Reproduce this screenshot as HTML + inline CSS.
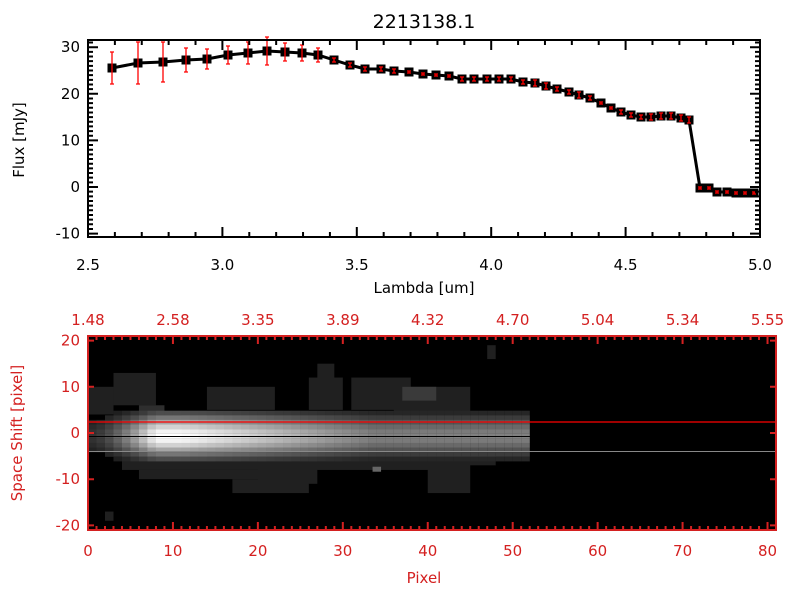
<!DOCTYPE html>
<html><head><meta charset="utf-8">
<style>
html,body{margin:0;padding:0;background:#fff;}
svg{display:block;font-family:"DejaVu Sans","Liberation Sans",sans-serif;}
</style></head>
<body>
<svg id="s" width="800" height="600" xmlns="http://www.w3.org/2000/svg">
<rect width="800" height="600" fill="#fff"/>
<text x="424" y="28" font-size="19" text-anchor="middle" fill="#000">2213138.1</text>
<g id="top"></g>
<g id="img"></g>
<g id="bot"></g>
<text x="424" y="293" font-size="15" text-anchor="middle">Lambda [um]</text>
<text x="24" y="140" font-size="15" text-anchor="middle" transform="rotate(-90 24 140)">Flux [mJy]</text>
<text x="424" y="583" font-size="15" text-anchor="middle" fill="#d42020">Pixel</text>
<text x="22" y="433" font-size="15" text-anchor="middle" fill="#d42020" transform="rotate(-90 22 433)">Space Shift [pixel]</text>
</svg>
<script>
var NS="http://www.w3.org/2000/svg";
function el(p,t,a,txt){var e=document.createElementNS(NS,t);for(var k in a)e.setAttribute(k,a[k]);if(txt!==undefined)e.textContent=txt;p.appendChild(e);return e;}
var top_=document.getElementById('top'),img=document.getElementById('img'),bot=document.getElementById('bot');
var X0=88,X1=760,Y0=40,Y1=237;
function px(l){return X0+(l-2.5)*268.8;}
function py(v){return 187-v*4.66;}
var pts=[[112,68],[138,63],[163,62],[186,60],[207,59],[228,55],[248,53],[267,51],[285,52],[302,53],[318,55],[334,60],[350,65],[365,69],[381,69],[394,71],[409,72],[423,74],[436,75],[449,76],[462,79],[474,79],[487,79],[499,79],[511,79],[523,82],[535,83],[546,86],[557,89],[569,92],[579,95],[590,98],[601,103],[611,108],[621,112],[631,115],[641,117],[651,117],[661,116],[671,116],[681,118],[689,120],[700,188],[709,188],[717,192],[727,192],[736,193],[745,193],[754,193]];
var errs=[16,21,20,12,10,9,11,14,9,8,7,2,2,2,2,2,1,1,1,1,2,2,2,2,2,2,3,3,2,2,3,2,1,1,2,2,2,3,3,3,3,3,1,1,1,1,1,1,1];
var d="";pts.forEach(function(p,i){d+=(i?"L":"M")+p[0]+" "+p[1];});
el(top_,'path',{d:d,fill:'none',stroke:'#000','stroke-width':3});
pts.forEach(function(p){el(top_,'rect',{x:p[0]-4.5,y:p[1]-4.5,width:9,height:9,fill:'#000'});});
pts.forEach(function(p,i){var e=errs[i];el(top_,'path',{d:"M"+p[0]+" "+(p[1]-e)+"V"+(p[1]+e)+"M"+(p[0]-2)+" "+(p[1]-e)+"h4M"+(p[0]-2)+" "+(p[1]+e)+"h4",stroke:'#f00','stroke-width':1.3,fill:'none'});});
el(top_,'rect',{x:X0,y:Y0,width:X1-X0,height:Y1-Y0,fill:'none',stroke:'#000','stroke-width':2});
var t="";
for(var i=0;i<=25;i++){var x=px(2.5+i*0.1);var L=(i%5==0)?10:5;t+="M"+x+" "+Y1+"v-"+L+"M"+x+" "+Y0+"v"+L;}
for(var v=-10;v<=31;v++){var y=py(v);var L=(v%10==0)?10:5;t+="M"+X0+" "+y+"h"+L+"M"+X1+" "+y+"h-"+L;}
el(top_,'path',{d:t,stroke:'#000','stroke-width':2,fill:'none'});
["2.5","3.0","3.5","4.0","4.5","5.0"].forEach(function(s,i){el(top_,'text',{x:px(2.5+i*0.5),y:270,'font-size':15,'text-anchor':'middle'},s);});
[30,20,10,0,-10].forEach(function(v){el(top_,'text',{x:80,y:py(v)+5,'font-size':15,'text-anchor':'end'},String(v));});
var B0=88,B1=776,BT=336,BB=530;
function bx(p){return B0+p*8.494;}
function by(v){return 433-v*4.62;}
el(img,'rect',{x:B0,y:BT,width:B1-B0,height:BB-BT,fill:'#000'});
function f(p){ if(p<0.5||p>=52) return 0; var r;
 if(p<8) r=0.2+0.8*Math.pow((p-0.5)/7.5,1.5); else if(p<11) r=1; else r=Math.max(0.5,1-(p-11)*0.022);
 return r;}
function g(dy){var a=Math.abs(dy); if(a>26) return 0; return Math.exp(-Math.pow(a/21,2));}
var halo=[[0,10,3,4],[3,13,8,6],[14,10,22,5],[26,12,30,5],[27,15,29,11],[31,12,38,5],[36,10,45,4],[39,8,42,6],[4,-2,44,-8],[6,-8,24,-10],[17,-10,26,-13],[43,-5,48,-7],[20,-4,27,-11],[40,-5,45,-13],[47,19,48,16],[2,-17,3,-19],[11,4,37,1]];
halo.forEach(function(h){el(img,'rect',{x:bx(h[0]),y:by(h[1]),width:bx(h[2])-bx(h[0]),height:by(h[3])-by(h[1]),fill:'#202020'});});
el(img,'rect',{x:bx(37),y:by(10),width:bx(41)-bx(37),height:by(7)-by(10),fill:'#3a3a3a'});
el(img,'rect',{x:bx(6),y:by(6),width:bx(9)-bx(6),height:by(4)-by(6),fill:'#2e2e2e'});
el(img,'rect',{x:bx(33.5),y:by(-7.3),width:8.5,height:5,fill:'#666'});
for(var p=0;p<52;p++){for(var r=-5;r<=5;r++){var yc=436+r*4.6;var val=f(p+0.5)*g(yc-436);var c=Math.round(255*val);if(c<30)continue;
 el(img,'rect',{x:bx(p),y:yc-2.3,width:8.6,height:4.7,fill:'rgb('+c+','+c+','+c+')'});}}
el(img,'line',{x1:B0,x2:B1,y1:422,y2:422,stroke:'#f00','stroke-width':1.3});
el(img,'line',{x1:B0,x2:B1,y1:436.5,y2:436.5,stroke:'#000','stroke-width':1});
el(img,'line',{x1:B0,x2:B1,y1:451.5,y2:451.5,stroke:'#888','stroke-width':1});
var R='#d42020';
el(bot,'rect',{x:B0,y:BT,width:B1-B0,height:BB-BT,fill:'none',stroke:R,'stroke-width':2});
t="";
for(var i=0;i<=81;i++){var x=bx(i);var L=(i%10==0)?8:4;t+="M"+x+" "+BB+"v-"+L+"M"+x+" "+BT+"v"+L;}
for(var v=-20;v<=20;v+=10){var y=by(v);t+="M"+B0+" "+y+"h6M"+B1+" "+y+"h-6";}
el(bot,'path',{d:t,stroke:R,'stroke-width':2,fill:'none'});
for(var i=0;i<=8;i++){el(bot,'text',{x:bx(i*10),y:556,'font-size':15,'text-anchor':'middle',fill:R},String(i*10));}
["1.48","2.58","3.35","3.89","4.32","4.70","5.04","5.34","5.55"].forEach(function(s,i){el(bot,'text',{x:bx(i*10),y:325,'font-size':15,'text-anchor':'middle',fill:R},s);});
[20,10,0,-10,-20].forEach(function(v){el(bot,'text',{x:80,y:by(v)+5,'font-size':15,'text-anchor':'end',fill:R},String(v));});
</script>
</body></html>
